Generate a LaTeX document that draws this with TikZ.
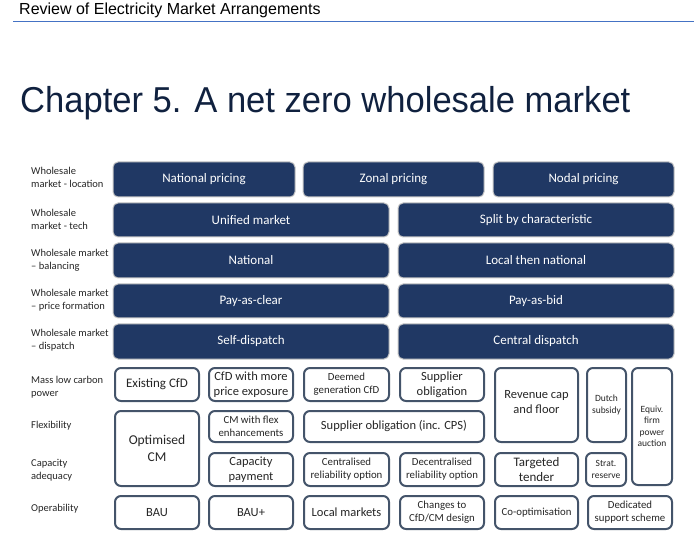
\documentclass[tikz,border=0pt]{standalone}
\usepackage{fontspec}
\setmainfont{Carlito}
\newfontfamily\headfont{Liberation Sans}
\newfontfamily\titlefont[FakeStretch=0.96]{Liberation Sans}
\definecolor{navy}{HTML}{203864}
\definecolor{deepnavy}{HTML}{10213F}
\definecolor{slate}{HTML}{44546A}
\definecolor{rulebl}{HTML}{4472C4}

\begin{document}
\begin{tikzpicture}[
  x=1pt, y=-1pt,
  sz/.style 2 args={minimum width=#1, minimum height=#2},
  dark/.style={draw=gray!45, line width=1pt, fill=navy, rounded corners=5pt, inner sep=0pt,
               text=white, font=\fontsize{13}{15}\selectfont, align=center},
  lite/.style={draw=slate, line width=2pt, fill=white, rounded corners=6pt, inner sep=0pt,
               text=black!85, font=\fontsize{12.5}{15}\selectfont, align=center},
  small/.style={font=\fontsize{10.8}{13}\selectfont},
  tiny/.style={font=\fontsize{9.5}{11.5}\selectfont},
  lbl/.style={anchor=west, align=left, inner sep=0pt, text=black!85,
              font=\fontsize{10.5}{13}\selectfont}
]
\useasboundingbox (0,0) rectangle (694,548);

% page header
\node[anchor=base west, inner sep=0pt, font=\headfont\fontsize{16}{18}\selectfont] (hdr) at (19,15) {Review of Electricity Market Arrangements};
\coordinate (rl) at (13,21);
\coordinate (rr) at (694,21);
\draw[rulebl, line width=0.8pt] (rl) -- (rr);
\node[anchor=base west, inner sep=0pt, text=deepnavy, font=\titlefont\fontsize{36}{40}\selectfont] (ttl) at (20,113) {Chapter 5. A net zero wholesale market};

% row labels
\node[lbl] (l1) at (31,177.5) {Wholesale\\market - location};
\node[lbl] (l2) at (31,219.5) {Wholesale\\market - tech};
\node[lbl] (l3) at (31,260) {Wholesale market\\-- balancing};
\node[lbl] (l4) at (31,300) {Wholesale market\\-- price formation};
\node[lbl] (l5) at (31,340) {Wholesale market\\-- dispatch};
\node[lbl] (l6) at (31,387) {Mass low carbon\\power};
\node[lbl] (l7) at (31,426) {Flexibility};
\node[lbl] (l8) at (31,470.5) {Capacity\\adequacy};
\node[lbl] (l9) at (31,509) {Operability};

% wholesale market options
\node[dark, sz={182}{35}] (nat) at (204,179.5) {National pricing};
\node[dark, sz={181}{35}] (zon) at (393.5,179.5) {Zonal pricing};
\node[dark, sz={181}{35}] (nod) at (583.5,179.5) {Nodal pricing};
\node[dark, sz={276}{34}] (uni) at (251,220) {Unified market};
\node[dark, sz={276}{34}] (spl) at (536,220) {Split by characteristic};
\node[dark, sz={276}{35}] (bnat) at (251,260.5) {National};
\node[dark, sz={276}{35}] (bloc) at (536,260.5) {Local then national};
\node[dark, sz={276}{34}] (pac) at (251,301) {Pay-as-clear};
\node[dark, sz={276}{34}] (pab) at (536,301) {Pay-as-bid};
\node[dark, sz={276}{35}] (self) at (251,341.5) {Self-dispatch};
\node[dark, sz={276}{35}] (cent) at (536,341.5) {Central dispatch};

% policy options
\node[lite, sz={84}{33}, font=\fontsize{13}{15}\selectfont] (ecfd) at (157,384.5) {Existing CfD};
\node[lite, sz={84}{33}] (mcfd) at (251,384.5) {CfD with more\\price exposure};
\node[lite, small, sz={85}{33}] (dcfd) at (346.5,384.5) {Deemed\\generation CfD};
\node[lite, sz={84}{33}] (sob) at (442,384.5) {Supplier\\obligation};
\node[lite, sz={83}{74}] (rcap) at (536.5,405) {Revenue cap\\and floor\\[-8pt]};
\node[lite, tiny, sz={39}{74}] (dut) at (606.5,405) {Dutch\\subsidy};
\node[lite, tiny, sz={40}{117}] (efp) at (652,426.5) {Equiv.\\firm\\power\\auction};
\node[lite, sz={84}{75}, font=\fontsize{13.5}{17}\selectfont] (ocm) at (157,448.5) {Optimised\\CM};
\node[lite, small, sz={84}{31}] (cmf) at (251,426.5) {CM with flex\\enhancements};
\node[lite, sz={180}{31}] (socps) at (394,426.5) {Supplier obligation (inc. CPS)};
\node[lite, sz={84}{33}] (cap) at (251,469.5) {Capacity\\payment};
\node[lite, small, sz={85}{33}] (cro) at (346.5,469.5) {Centralised\\reliability option};
\node[lite, small, sz={84}{33}] (dro) at (442,469.5) {Decentralised\\reliability option};
\node[lite, sz={83}{33}, font=\fontsize{13}{15}\selectfont] (tgt) at (536.5,469.5) {Targeted\\tender};
\node[lite, tiny, sz={40}{33}] (str) at (606,469.5) {Strat.\\reserve};
\node[lite, sz={84}{33}] (bau) at (157,512.5) {BAU};
\node[lite, sz={84}{33}] (baup) at (251,512.5) {BAU+};
\node[lite, sz={85}{33}] (lmk) at (346.5,512.5) {Local markets};
\node[lite, small, sz={84}{33}] (chg) at (442,512.5) {Changes to\\CfD/CM design};
\node[lite, small, sz={83}{33}] (coo) at (536.5,512.5) {Co-optimisation};
\node[lite, small, sz={84}{33}] (ded) at (630,512.5) {Dedicated\\support scheme};
\end{tikzpicture}
\end{document}
